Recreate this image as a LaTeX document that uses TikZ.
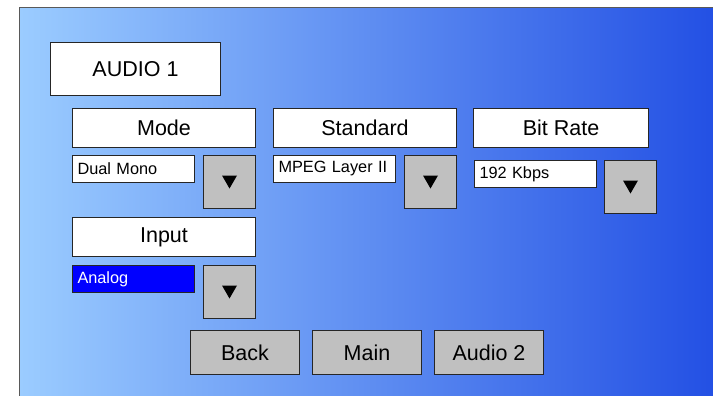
\documentclass[tikz,border=0pt]{standalone}
\usepackage{fontspec}
\setmainfont{Liberation Sans}
\usepackage{xcolor}
\usetikzlibrary{calc}
\definecolor{panelleft}{HTML}{9BCCFF}
\definecolor{panelright}{HTML}{2350E4}
\definecolor{btngray}{HTML}{C0C0C0}
\colorlet{selblue}{blue}

\tikzset{
  hdrbox/.style={draw=black!85, line width=1pt, fill=white, anchor=north west, inner sep=0pt,
    font=\fontsize{21.5}{24}\selectfont},
  fieldbox/.style={draw=black!85, line width=1pt, fill=white, anchor=north west, inner sep=0pt,
    minimum width=122pt, minimum height=27pt, text width=112pt, align=left,
    font=\fontsize{16.3}{18}\selectfont},
  dropbtn/.style={draw=black!85, line width=1pt, fill=btngray, anchor=north west,
    minimum width=52pt, minimum height=53pt, inner sep=0pt},
  navbtn/.style={draw=black!85, line width=1pt, fill=btngray, anchor=north west, inner sep=0pt,
    minimum width=109pt, minimum height=44pt, font=\fontsize{21.5}{24}\selectfont}
}

\begin{document}
\begin{tikzpicture}[x=1pt, y=-1pt]
	\useasboundingbox (0, 0) rectangle (713, 396);
	% panel
	\shade[left color=panelleft, right color=panelright] (19.5, 7.5) rectangle (714, 397);
	\draw[black!65, line width=1.5pt] (19.5, 397) -- (19.5, 7.5) -- (714, 7.5);

	\node[hdrbox, minimum width=170pt, minimum height=53pt] (title) at (50, 42) {AUDIO 1};

	% headers
	\node[hdrbox, minimum width=183pt, minimum height=39pt] (mode) at (72, 108) {Mode};
	\node[hdrbox, minimum width=183pt, minimum height=39pt] (std) at (273, 108) {Standard};
	\node[hdrbox, minimum width=175pt, minimum height=39pt] (rate) at (473, 108) {Bit Rate};
	\node[hdrbox, minimum width=183pt, minimum height=39pt] (input) at (72, 217) {Input};

	% value fields
	\node[fieldbox] (modeval) at (72, 155) {Dual Mono};
	\node[fieldbox] (stdval) at (273, 155) {MPEG Layer II};
	\node[fieldbox] (rateval) at (474, 160) {192 Kbps};
	\node[fieldbox, fill=selblue, text=white] (inputval) at (72, 265) {Analog};

	% drop buttons
	\node[dropbtn] (modedrop) at (203, 155) {};
	\node[dropbtn] (stddrop) at (404, 155) {};
	\node[dropbtn] (ratedrop) at (604, 160) {};
	\node[dropbtn] (inputdrop) at (203, 265) {};
	\foreach \d in {modedrop, stddrop, ratedrop, inputdrop}
		\fill[black] ([shift={(-7.5, -6.5)}]\d.center) -- ([shift={(7.5, -6.5)}]\d.center)
			-- ([shift={(0, 6.5)}]\d.center) -- cycle;

	% bottom buttons
	\node[navbtn] (back) at (190, 330) {Back};
	\node[navbtn] (main) at (312, 330) {Main};
	\node[navbtn] (audio2) at (434, 330) {Audio 2};
\end{tikzpicture}
\end{document}
